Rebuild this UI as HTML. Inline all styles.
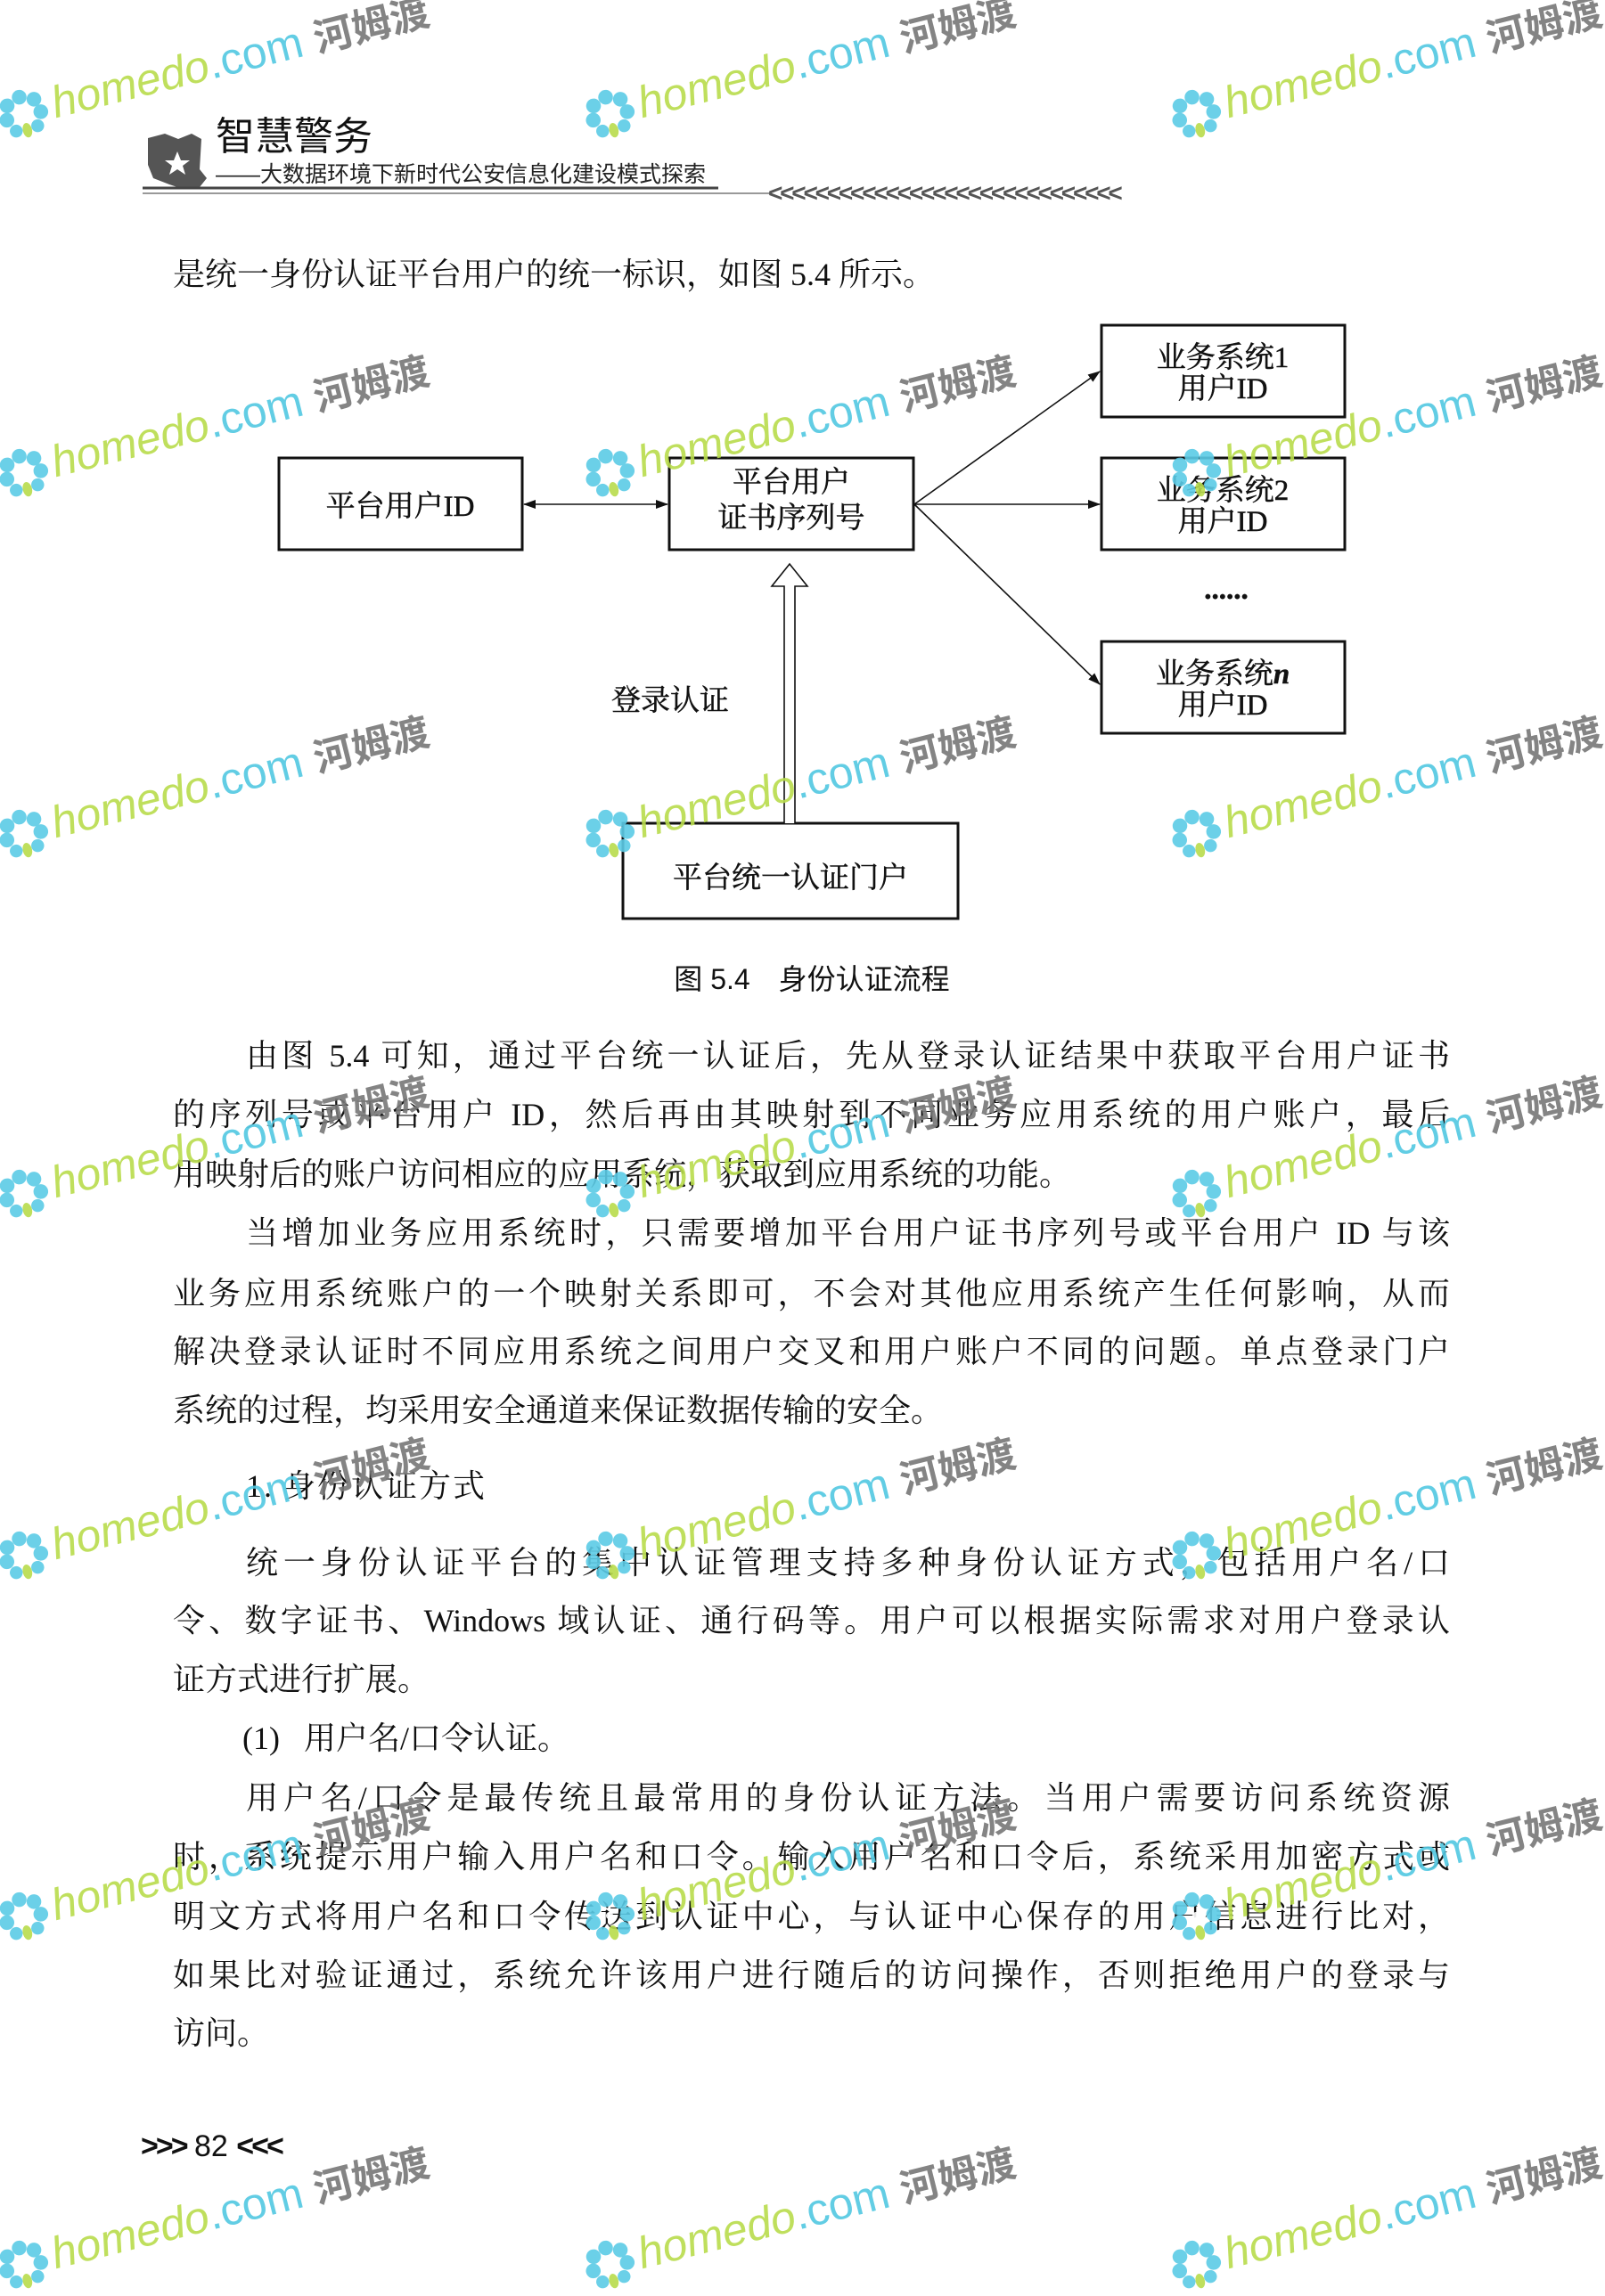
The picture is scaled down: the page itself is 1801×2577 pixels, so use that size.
<!DOCTYPE html>
<html><head><meta charset="utf-8">
<style>
html,body{margin:0;padding:0;background:#fff}
body{width:1801px;height:2541px;position:relative;overflow:hidden;font-family:"Liberation Serif","Noto Serif CJK SC",serif;color:#111}
.l{position:absolute;left:194px;width:1433px;font-size:36px;line-height:44px;height:44px;white-space:nowrap}
.j{text-align:justify;text-align-last:justify}
.wm{position:absolute;transform-origin:0 100%;transform:rotate(-14deg);white-space:nowrap;font-family:"Liberation Sans","Noto Sans CJK SC",sans-serif;font-size:50px;line-height:58px;opacity:.9}
.wm .h{color:#b9dc4c;font-style:italic}.wm .c{color:#52c8e2}.wm .k{color:#777;font-weight:bold;font-size:44px}
.fl{display:inline-block;width:64px;height:58px;vertical-align:bottom;margin-right:2px}
</style></head><body>

<!-- header -->
<svg style="position:absolute;left:0;top:0" width="1801" height="240">
<path d="M166 155 L185 150 L200 156 L215 150 L226 156 L224 190 L232 200 L224 210 L205 212 L190 207 L172 200 L166 185Z" fill="#555"/>
<polygon points="195,180 199,170 203,180 213,180 205,186 208,196 199,190 190,196 193,186 185,180" fill="#fff"/>
<line x1="160" y1="211" x2="806" y2="211" stroke="#444" stroke-width="3"/>
<line x1="160" y1="217" x2="864" y2="217" stroke="#999" stroke-width="2"/>
<text x="862" y="226" font-family="Liberation Sans" font-size="28" font-weight="bold" fill="#555" letter-spacing="-3.2">&lt;&lt;&lt;&lt;&lt;&lt;&lt;&lt;&lt;&lt;&lt;&lt;&lt;&lt;&lt;&lt;&lt;&lt;&lt;&lt;&lt;&lt;&lt;&lt;&lt;&lt;&lt;&lt;&lt;&lt;</text>
</svg>
<div style="position:absolute;left:242px;top:128px;font-family:'Liberation Sans','Noto Sans CJK SC',sans-serif;font-size:44px;line-height:52px;color:#111">智慧警务</div>
<div style="position:absolute;left:242px;top:181px;font-family:'Liberation Sans','Noto Sans CJK SC',sans-serif;font-size:25px;line-height:30px;color:#222">——大数据环境下新时代公安信息化建设模式探索</div>

<div class="l" style="top:286px">是统一身份认证平台用户的统一标识，如图 5.4 所示。</div>

<!-- diagram -->
<svg style="position:absolute;left:0;top:0" width="1801" height="1150" font-family="Liberation Serif,Noto Serif CJK SC,serif">
<defs><marker id="a" markerWidth="14" markerHeight="10" refX="13" refY="5" orient="auto" markerUnits="userSpaceOnUse"><path d="M0,0 L14,5 L0,10Z" fill="#111"/></marker>
<marker id="b" markerWidth="14" markerHeight="10" refX="1" refY="5" orient="auto" markerUnits="userSpaceOnUse"><path d="M14,0 L0,5 L14,10Z" fill="#111"/></marker></defs>
<g fill="none" stroke="#111" stroke-width="3">
<rect x="313" y="514" width="273" height="103"/>
<rect x="751" y="514" width="274" height="103"/>
<rect x="1236" y="365" width="273" height="103"/>
<rect x="1236" y="514" width="273" height="103"/>
<rect x="1236" y="720" width="273" height="103"/>
<rect x="699" y="924" width="376" height="107"/>
</g>
<g stroke="#111" stroke-width="1.6">
<line x1="588" y1="566" x2="749" y2="566" marker-end="url(#a)" marker-start="url(#b)"/>
<line x1="1026" y1="566" x2="1234" y2="417" marker-end="url(#a)"/>
<line x1="1026" y1="566" x2="1234" y2="566" marker-end="url(#a)"/>
<line x1="1026" y1="566" x2="1234" y2="768" marker-end="url(#a)"/>
</g>
<path d="M880 924 L880 658 L866 658 L886 633 L906 658 L892 658 L892 924" fill="#fff" stroke="#111" stroke-width="1.6"/>
<g font-size="33" text-anchor="middle" fill="#111" stroke="#111" stroke-width="0.5">
<text x="449" y="579">平台用户ID</text>
<text x="888" y="552">平台用户</text>
<text x="888" y="592">证书序列号</text>
<text x="1372" y="412">业务系统1</text>
<text x="1372" y="447">用户ID</text>
<text x="1372" y="561">业务系统2</text>
<text x="1372" y="596">用户ID</text>
<text x="1372" y="767">业务系统<tspan font-style="italic" font-weight="bold">n</tspan></text>
<text x="1372" y="802">用户ID</text>
<text x="887" y="996">平台统一认证门户</text>
<text x="752" y="797">登录认证</text>
<text x="1376" y="672" font-weight="bold">......</text>
</g>
<text x="911" y="1110" text-anchor="middle" font-size="32" font-family="Liberation Sans,Noto Sans CJK SC,sans-serif" fill="#111">图 5.4　身份认证流程</text>
</svg>

<div class="l j" style="top:1163px;left:276px;width:1351px">由图 5.4 可知，通过平台统一认证后，先从登录认证结果中获取平台用户证书</div>
<div class="l j" style="top:1229px">的序列号或平台用户 ID，然后再由其映射到不同业务应用系统的用户账户，最后</div>
<div class="l" style="top:1296px">用映射后的账户访问相应的应用系统，获取到应用系统的功能。</div>
<div class="l j" style="top:1362px;left:276px;width:1351px">当增加业务应用系统时，只需要增加平台用户证书序列号或平台用户 ID 与该</div>
<div class="l j" style="top:1430px">业务应用系统账户的一个映射关系即可，不会对其他应用系统产生任何影响，从而</div>
<div class="l j" style="top:1495px">解决登录认证时不同应用系统之间用户交叉和用户账户不同的问题。单点登录门户</div>
<div class="l" style="top:1561px">系统的过程，均采用安全通道来保证数据传输的安全。</div>
<div class="l" style="top:1646px;left:276px;letter-spacing:2px">1.&nbsp;身份认证方式</div>
<div class="l j" style="top:1732px;left:276px;width:1351px">统一身份认证平台的集中认证管理支持多种身份认证方式，包括用户名/口</div>
<div class="l j" style="top:1797px">令、数字证书、Windows 域认证、通行码等。用户可以根据实际需求对用户登录认</div>
<div class="l" style="top:1863px">证方式进行扩展。</div>
<div class="l" style="top:1929px;left:272px">(1)&nbsp;&nbsp; 用户名/口令认证。</div>
<div class="l j" style="top:1996px;left:276px;width:1351px">用户名/口令是最传统且最常用的身份认证方法。当用户需要访问系统资源</div>
<div class="l j" style="top:2062px">时，系统提示用户输入用户名和口令。输入用户名和口令后，系统采用加密方式或</div>
<div class="l j" style="top:2129px">明文方式将用户名和口令传送到认证中心，与认证中心保存的用户信息进行比对，</div>
<div class="l j" style="top:2195px">如果比对验证通过，系统允许该用户进行随后的访问操作，否则拒绝用户的登录与</div>
<div class="l" style="top:2260px">访问。</div>

<div style="position:absolute;left:158px;top:2390px;font-family:'Liberation Sans',sans-serif;font-size:34px;line-height:38px;color:#111"><b style="letter-spacing:-3px">&gt;&gt;&gt;</b> 82 <b style="letter-spacing:-3px">&lt;&lt;&lt;</b></div>

<!-- watermarks -->
<div id="w"></div>
<script>
var xs=[2,660,1318], ys=[160,563,968,1372,1778,2183,2574], s='';
var fl='<svg class="fl" viewBox="0 0 62 56"><g fill="#5ccbe6"><circle cx="31" cy="10" r="8"/><circle cx="46" cy="16" r="8"/><circle cx="50" cy="31" r="8"/><circle cx="43" cy="45" r="7"/><circle cx="19" cy="45" r="7"/><circle cx="12" cy="31" r="8"/><circle cx="16" cy="16" r="8"/></g><ellipse cx="31" cy="47" rx="5" ry="8" fill="#b9dc4c"/><circle cx="31" cy="28" r="4" fill="#fff"/></svg>';
for(var i=0;i<ys.length;i++)for(var k=0;k<3;k++){
s+='<div class="wm" style="left:'+xs[k]+'px;top:'+(ys[i]-58)+'px">'+fl+'<span class="h">homedo</span><span class="c">.com</span> <span class="k">河姆渡</span></div>';}
document.getElementById('w').innerHTML=s;
</script>
</body></html>
